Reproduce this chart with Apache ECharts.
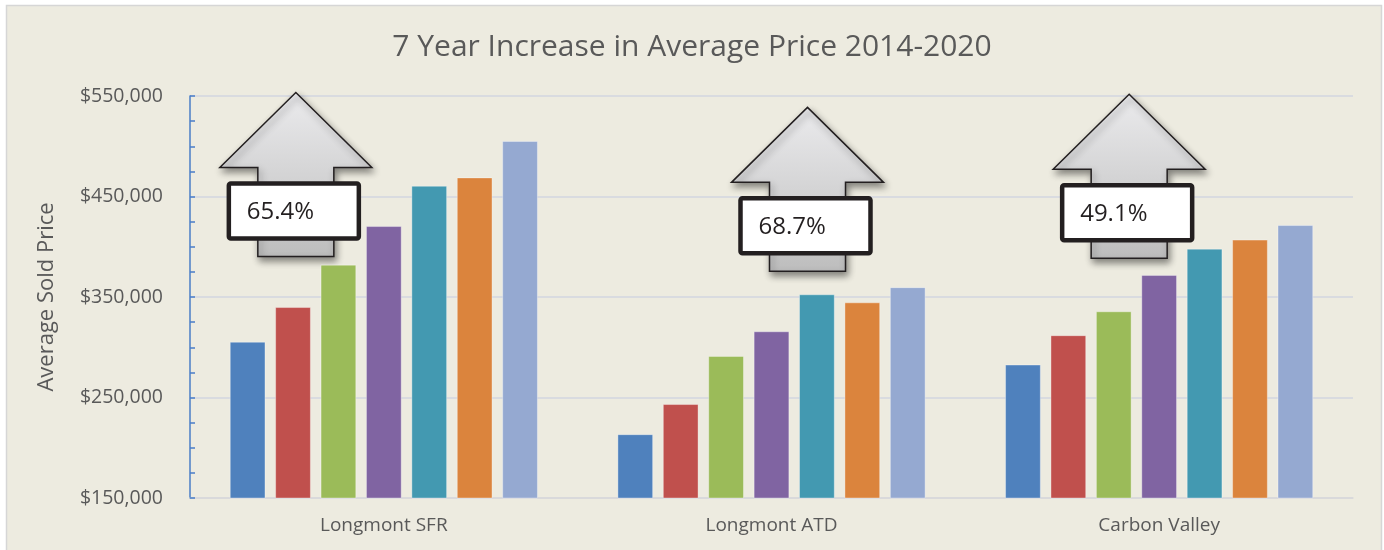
<!DOCTYPE html>
<html lang="en">

<head>
    <title>echarts</title>
    <meta http-equiv="content-type" content="text/html; charset=utf-8">
    <script src="https://cdn.jsdelivr.net/npm/echarts@6/dist/echarts.min.js"></script>
</head>

<style>
    * {
        margin: 0;
        padding: 0;
        box-sizing: border-box;
    }

    html,
    body {
        width: 100%;
        height: 100%;
        background: #ffffff;
    }

    #main {
        width: 1384px;
        height: 550px;
    }
</style>

<body>
    <div id="main"></div>
</body>
<script>
    // data
    const categories = ['Longmont SFR', 'Longmont ATD', 'Carbon Valley'];
    const years = ['2014', '2015', '2016', '2017', '2018', '2019', '2020'];
    const price2014 = [305500, 213500, 282800];
    const price2015 = [340000, 243500, 312000];
    const price2016 = [382200, 291400, 335800];
    const price2017 = [420600, 315900, 372000];
    const price2018 = [460700, 352700, 398100];
    const price2019 = [469000, 344700, 407100];
    const price2020 = [505300, 359800, 421600];
    const increaseLabels = ['65.4%', '68.7%', '49.1%'];

    const yearValues = [price2014, price2015, price2016, price2017, price2018, price2019, price2020];
    const colors = ['#4F81BD', '#C0504D', '#9BBB59', '#8064A2', '#4399B1', '#DB843D', '#95A9D1'];

    // arrow callouts: where the tip sits (value on the y axis, px shift from category centre)
    const arrowTipValue = [553500, 538700, 551700];
    const arrowShift = [-88, 36, -30];

    const font = '"Open Sans", "Noto Sans", sans-serif';
    const textGray = '#595959';

    const container = document.getElementById('main');
    const myChart = echarts.init(container, null, { renderer: 'canvas' });

    const frame = {
        type: 'rect',
        id: 'frame',
        z: -10,
        silent: true,
        shape: { x: 6.5, y: 5.5, width: 1375, height: 560 },
        style: { fill: '#EDEBE0', stroke: '#D6D6D6', lineWidth: 1.5 }
    };

    const series = years.map((y, i) => ({
        name: y,
        type: 'bar',
        data: yearValues[i],
        barGap: '27%',
        barCategoryGap: '20.5%',
        itemStyle: {
            color: colors[i],
            borderColor: 'rgba(255,255,255,0.35)',
            borderWidth: 1
        }
    }));

    myChart.setOption({
        animation: false,
        backgroundColor: 'transparent',
        color: colors,
        title: {
            text: '7 Year Increase in Average Price 2014-2020',
            left: 'center',
            top: 27,
            textStyle: {
                fontFamily: font,
                fontSize: 30,
                fontWeight: 'normal',
                color: textGray
            }
        },
        grid: {
            left: 190,
            right: 31,
            top: 96,
            bottom: 52,
            containLabel: false
        },
        xAxis: {
            type: 'category',
            data: categories,
            axisLine: { show: true, lineStyle: { color: '#D9D9D9', width: 1.5 } },
            axisTick: { show: false },
            axisLabel: {
                fontFamily: font,
                fontSize: 19,
                color: textGray,
                margin: 18
            }
        },
        yAxis: {
            type: 'value',
            min: 150000,
            max: 550000,
            interval: 100000,
            name: 'Average Sold Price',
            nameLocation: 'middle',
            nameGap: 132,
            nameTextStyle: {
                fontFamily: font,
                fontSize: 22,
                color: textGray
            },
            axisLine: { show: true, lineStyle: { color: '#4A7EC7', width: 1.5 } },
            axisTick: { show: true, inside: true, length: 5, lineStyle: { color: '#4A7EC7', width: 1.5 } },
            minorTick: { show: true, splitNumber: 4, length: 5, lineStyle: { color: '#4A7EC7', width: 1.5 } },
            splitLine: { show: true, lineStyle: { color: '#D9DBE0', width: 2 } },
            axisLabel: {
                fontFamily: font,
                fontSize: 19.5,
                color: textGray,
                margin: 27,
                formatter: v => '$' + v.toLocaleString('en-US')
            }
        },
        graphic: [frame],
        series: series
    });

    // arrow callouts, placed through the chart's own scales
    const arrowPoints = [[0, 0], [76, 75], [38, 75], [38, 164], [-38, 164], [-38, 75], [-76, 75]];
    const callouts = categories.map((c, i) => {
        const cx = myChart.convertToPixel({ xAxisIndex: 0 }, c) + arrowShift[i];
        const cy = myChart.convertToPixel({ yAxisIndex: 0 }, arrowTipValue[i]);
        return {
            type: 'group',
            id: 'callout' + i,
            x: cx,
            y: cy,
            z: 100,
            silent: true,
            children: [{
                type: 'polygon',
                shape: { points: arrowPoints },
                style: {
                    fill: new echarts.graphic.LinearGradient(0, 0, 0, 1, [
                        { offset: 0, color: '#EBEBED' },
                        { offset: 1, color: '#BDBDBD' }
                    ]),
                    stroke: '#231F20',
                    lineWidth: 1.5,
                    shadowColor: 'rgba(0,0,0,0.45)',
                    shadowBlur: 7,
                    shadowOffsetX: 2,
                    shadowOffsetY: 4
                }
            }, {
                type: 'rect',
                shape: { x: -67, y: 91, width: 130, height: 55, r: 2 },
                style: { fill: '#ffffff', stroke: '#231F20', lineWidth: 4.5 }
            }, {
                type: 'text',
                x: -49,
                y: 120,
                style: {
                    text: increaseLabels[i],
                    fontFamily: font,
                    fontSize: 24,
                    fill: '#231F20',
                    verticalAlign: 'middle',
                    align: 'left'
                }
            }]
        };
    });

    myChart.setOption({ graphic: [frame].concat(callouts) }, { replaceMerge: ['graphic'] });
</script>

</html>
